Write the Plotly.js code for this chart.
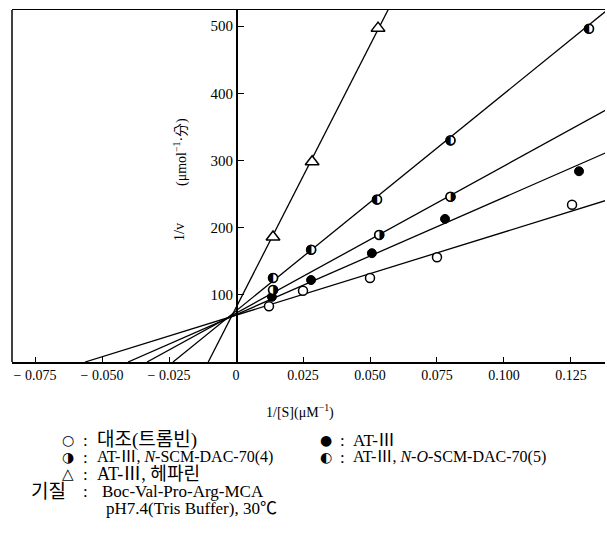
<!DOCTYPE html>
<html><head><meta charset="utf-8">
<script src="https://cdn.plot.ly/plotly-3.0.1.min.js"></script>
<style>body{margin:0;background:#fff}</style>
</head><body><div id="chart" style="width:607px;height:541px"></div>
<script>
// ---- data ----
const ctrlX = [0.0123, 0.025, 0.050, 0.075, 0.1254];
const ctrlY = [83, 106, 125, 156, 234];
const at3X = [0.0134, 0.028, 0.0507, 0.078, 0.128];
const at3Y = [97, 122, 162, 213, 284];
const scm4X = [0.0138, 0.0534, 0.080];
const scm4Y = [107, 189, 246];
const scm5X = [0.0138, 0.028, 0.0526, 0.080, 0.1317];
const scm5Y = [125, 167, 242, 330, 496];
const hepX = [0.0138, 0.0284, 0.053];
const hepY = [186, 298, 497];
// fitted Lineweaver-Burk lines (intercept, slope)
const fitIntercept = [69.7, 70.4, 72.7, 76, 81];
const fitSlope = [1237, 1747, 2190, 3233, 7811];
const xTickVals = [-0.075, -0.05, -0.025, 0, 0.025, 0.05, 0.075, 0.1, 0.125];
const xTickText = ['\u2212 0.075', '\u2212 0.050', '\u2212 0.025', '0', '0.025', '0.050', '0.075', '0.100', '0.125'];
const yTickVals = [100, 200, 300, 400, 500];

const XR = [-0.0836, 0.1377], YR = [0, 524];
const SERIF = '"Liberation Serif", "Noto Sans CJK KR", serif';
const traces = [];
fitIntercept.forEach((b, i) => {
  const m = fitSlope[i];
  const x0 = -b / m, x1 = 0.145;
  traces.push({x: [x0, x1], y: [0, b + m * x1], mode: 'lines', line: {color: '#000', width: 1.3}, hoverinfo: 'skip'});
});
const openMarker = {symbol: 'circle', size: 9, color: '#fff', line: {color: '#000', width: 1.5}};
traces.push({x: ctrlX, y: ctrlY, mode: 'markers', marker: openMarker});
traces.push({x: at3X, y: at3Y, mode: 'markers', marker: {symbol: 'circle', size: 9, color: '#000', line: {color: '#000', width: 1}}});
traces.push({x: scm4X, y: scm4Y, mode: 'markers', marker: openMarker});
traces.push({x: scm4X, y: scm4Y, mode: 'text', text: scm4X.map(() => '\u25D1'), textposition: 'middle center', textfont: {family: 'DejaVu Sans', size: 13, color: '#000'}});
traces.push({x: scm5X, y: scm5Y, mode: 'markers', marker: openMarker});
traces.push({x: scm5X, y: scm5Y, mode: 'text', text: scm5X.map(() => '\u25D0'), textposition: 'middle center', textfont: {family: 'DejaVu Sans', size: 13, color: '#000'}});
traces.push({x: hepX, y: hepY, mode: 'markers', marker: {symbol: 'triangle-up', size: 12, color: '#fff', line: {color: '#000', width: 1.5}}});

const W = 607, H = 541, L = 12, R = 2, T = 10, B = 179;
const pw = W - L - R, ph = H - T - B;
const px = x => (x - L) / pw;
const py = y => (H - B - y) / ph;

function ann(x, y, text, anchor, size, extra) {
  return Object.assign({xref: 'paper', yref: 'paper', x: px(x), y: py(y), text: text, showarrow: false,
    xanchor: anchor, yanchor: 'middle', font: {family: SERIF, size: size, color: '#000'}}, extra || {});
}
const SYM = s => ({font: {family: 'DejaVu Sans', size: s, color: '#000'}});
const annotations = [
  ann(180, 232, '1/v', 'center', 14, {textangle: -90}),
  ann(180, 152, '(\u03BCmol<sup>\u22121</sup>\u00B7\u5206)', 'center', 14, {textangle: -90}),
  ann(300, 411, '1/[S](\u03BCM<sup>\u22121</sup>)', 'center', 14),
  // legend rows
  ann(76, 440, '\u25CB', 'right', 14, SYM(14)),
  ann(85, 440, ':', 'center', 17),
  ann(95, 440, '\uB300\uC870(\uD2B8\uB86C\uBE48)', 'left', 19),
  ann(334, 440, '\u25CF', 'right', 14, SYM(14)),
  ann(342, 440, ':', 'center', 17),
  ann(351, 440, 'AT-\u2162', 'left', 17),
  ann(76, 457, '\u25D1', 'right', 14, SYM(14)),
  ann(85, 457, ':', 'center', 17),
  ann(95, 457, 'AT-\u2162, <i>N</i>-SCM-DAC-70(4)', 'left', 16),
  ann(334, 457, '\u25D0', 'right', 14, SYM(14)),
  ann(342, 457, ':', 'center', 17),
  ann(351, 457, 'AT-\u2162, <i>N-O</i>-SCM-DAC-70(5)', 'left', 16),
  ann(76, 474, '\u25B3', 'right', 15, SYM(15)),
  ann(85, 474, ':', 'center', 17),
  ann(95, 474, 'AT-\u2162, \uD5E4\uD30C\uB9B0', 'left', 18),
  ann(68, 491, '\uAE30\uC9C8', 'right', 19),
  ann(85, 491, ':', 'center', 17),
  ann(100, 491, 'Boc-Val-Pro-Arg-MCA', 'left', 17),
  ann(104, 509, 'pH7.4(Tris Buffer), 30\u2103', 'left', 17)
];

const layout = {
  width: W, height: H, margin: {l: L, r: R, t: T, b: B},
  paper_bgcolor: '#fff', plot_bgcolor: '#fff', showlegend: false,
  font: {family: SERIF, color: '#000'},
  xaxis: {range: XR, showgrid: false, zeroline: false, showline: true, mirror: true, linecolor: '#000', linewidth: 1.5,
    ticks: 'inside', ticklen: 5, tickcolor: '#000', tickvals: xTickVals, ticktext: xTickText,
    tickfont: {family: SERIF, size: 14, color: '#000'}},
  yaxis: {range: YR, showgrid: false, zeroline: false, showline: true, linecolor: '#000', linewidth: 1.5,
    anchor: 'free', position: (0 - XR[0]) / (XR[1] - XR[0]), side: 'left',
    ticks: 'inside', ticklen: 6, tickcolor: '#000', tickvals: yTickVals,
    tickfont: {family: SERIF, size: 15, color: '#000'}},
  shapes: [{type: 'line', xref: 'paper', yref: 'paper', x0: 0, x1: 0, y0: 0, y1: 1, line: {color: '#000', width: 1.5}}],
  annotations: annotations
};
Plotly.newPlot('chart', traces, layout, {displayModeBar: false, staticPlot: true});
</script></body></html>
